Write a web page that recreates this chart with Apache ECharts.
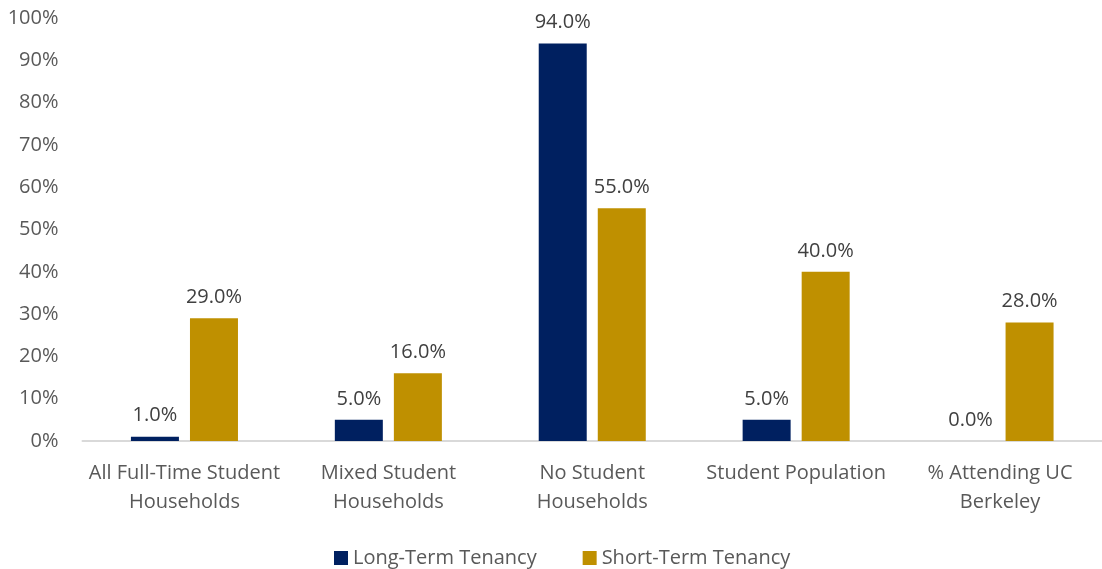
<!DOCTYPE html>
<html><head><meta charset="utf-8">
<script src="https://cdn.jsdelivr.net/npm/echarts@6/dist/echarts.min.js"></script>
<style>html,body{margin:0;padding:0;background:#fff}#c{width:1102px;height:569px}</style>
</head><body><div id="c"></div>
<script>
const categories = ['All Full-Time Student\nHouseholds','Mixed Student\nHouseholds','No Student\nHouseholds','Student Population','% Attending UC\nBerkeley'];
const longTerm = [1.0, 5.0, 94.0, 5.0, 0.0];
const shortTerm = [29.0, 16.0, 55.0, 40.0, 28.0];
const seriesNames = ['Long-Term Tenancy','Short-Term Tenancy'];
const FONT = 'Open Sans';
const FS = 20;
const chart = echarts.init(document.getElementById('c'));
const lbl = {show:true, position:'top', distance:11, color:'#404040', fontSize:FS, fontFamily:FONT, formatter: p => p.value.toFixed(1)+'%'};
chart.setOption({
  animation:false,
  textStyle:{fontFamily:FONT},
  grid:{left:82.5, top:18, width:1029, height:423, containLabel:false},
  legend:{top:543, left:329, itemWidth:14, itemHeight:14, itemGap:46, icon:'rect',
    textStyle:{color:'#595959', fontSize:FS, fontFamily:FONT, width:199, padding:[0,0,0,0]}, data:seriesNames},
  xAxis:{type:'category', data:categories,
    axisLine:{lineStyle:{color:'#d9d9d9', width:2}}, axisTick:{show:false},
    axisLabel:{color:'#595959', fontSize:FS, fontFamily:FONT, margin:18, lineHeight:29, interval:0}},
  yAxis:{type:'value', min:0, max:100, interval:10,
    axisLine:{show:false}, axisTick:{show:false}, splitLine:{show:false},
    axisLabel:{color:'#595959', fontSize:FS, fontFamily:FONT, margin:24, formatter:'{value}%'}},
  series:[
    {name:seriesNames[0], type:'bar', data:longTerm, barWidth:48, barGap:'23%', itemStyle:{color:'#002060'}, label:lbl},
    {name:seriesNames[1], type:'bar', data:shortTerm, barWidth:48, barGap:'23%', itemStyle:{color:'#BF9000'}, label:lbl}
  ]
});
</script></body></html>
